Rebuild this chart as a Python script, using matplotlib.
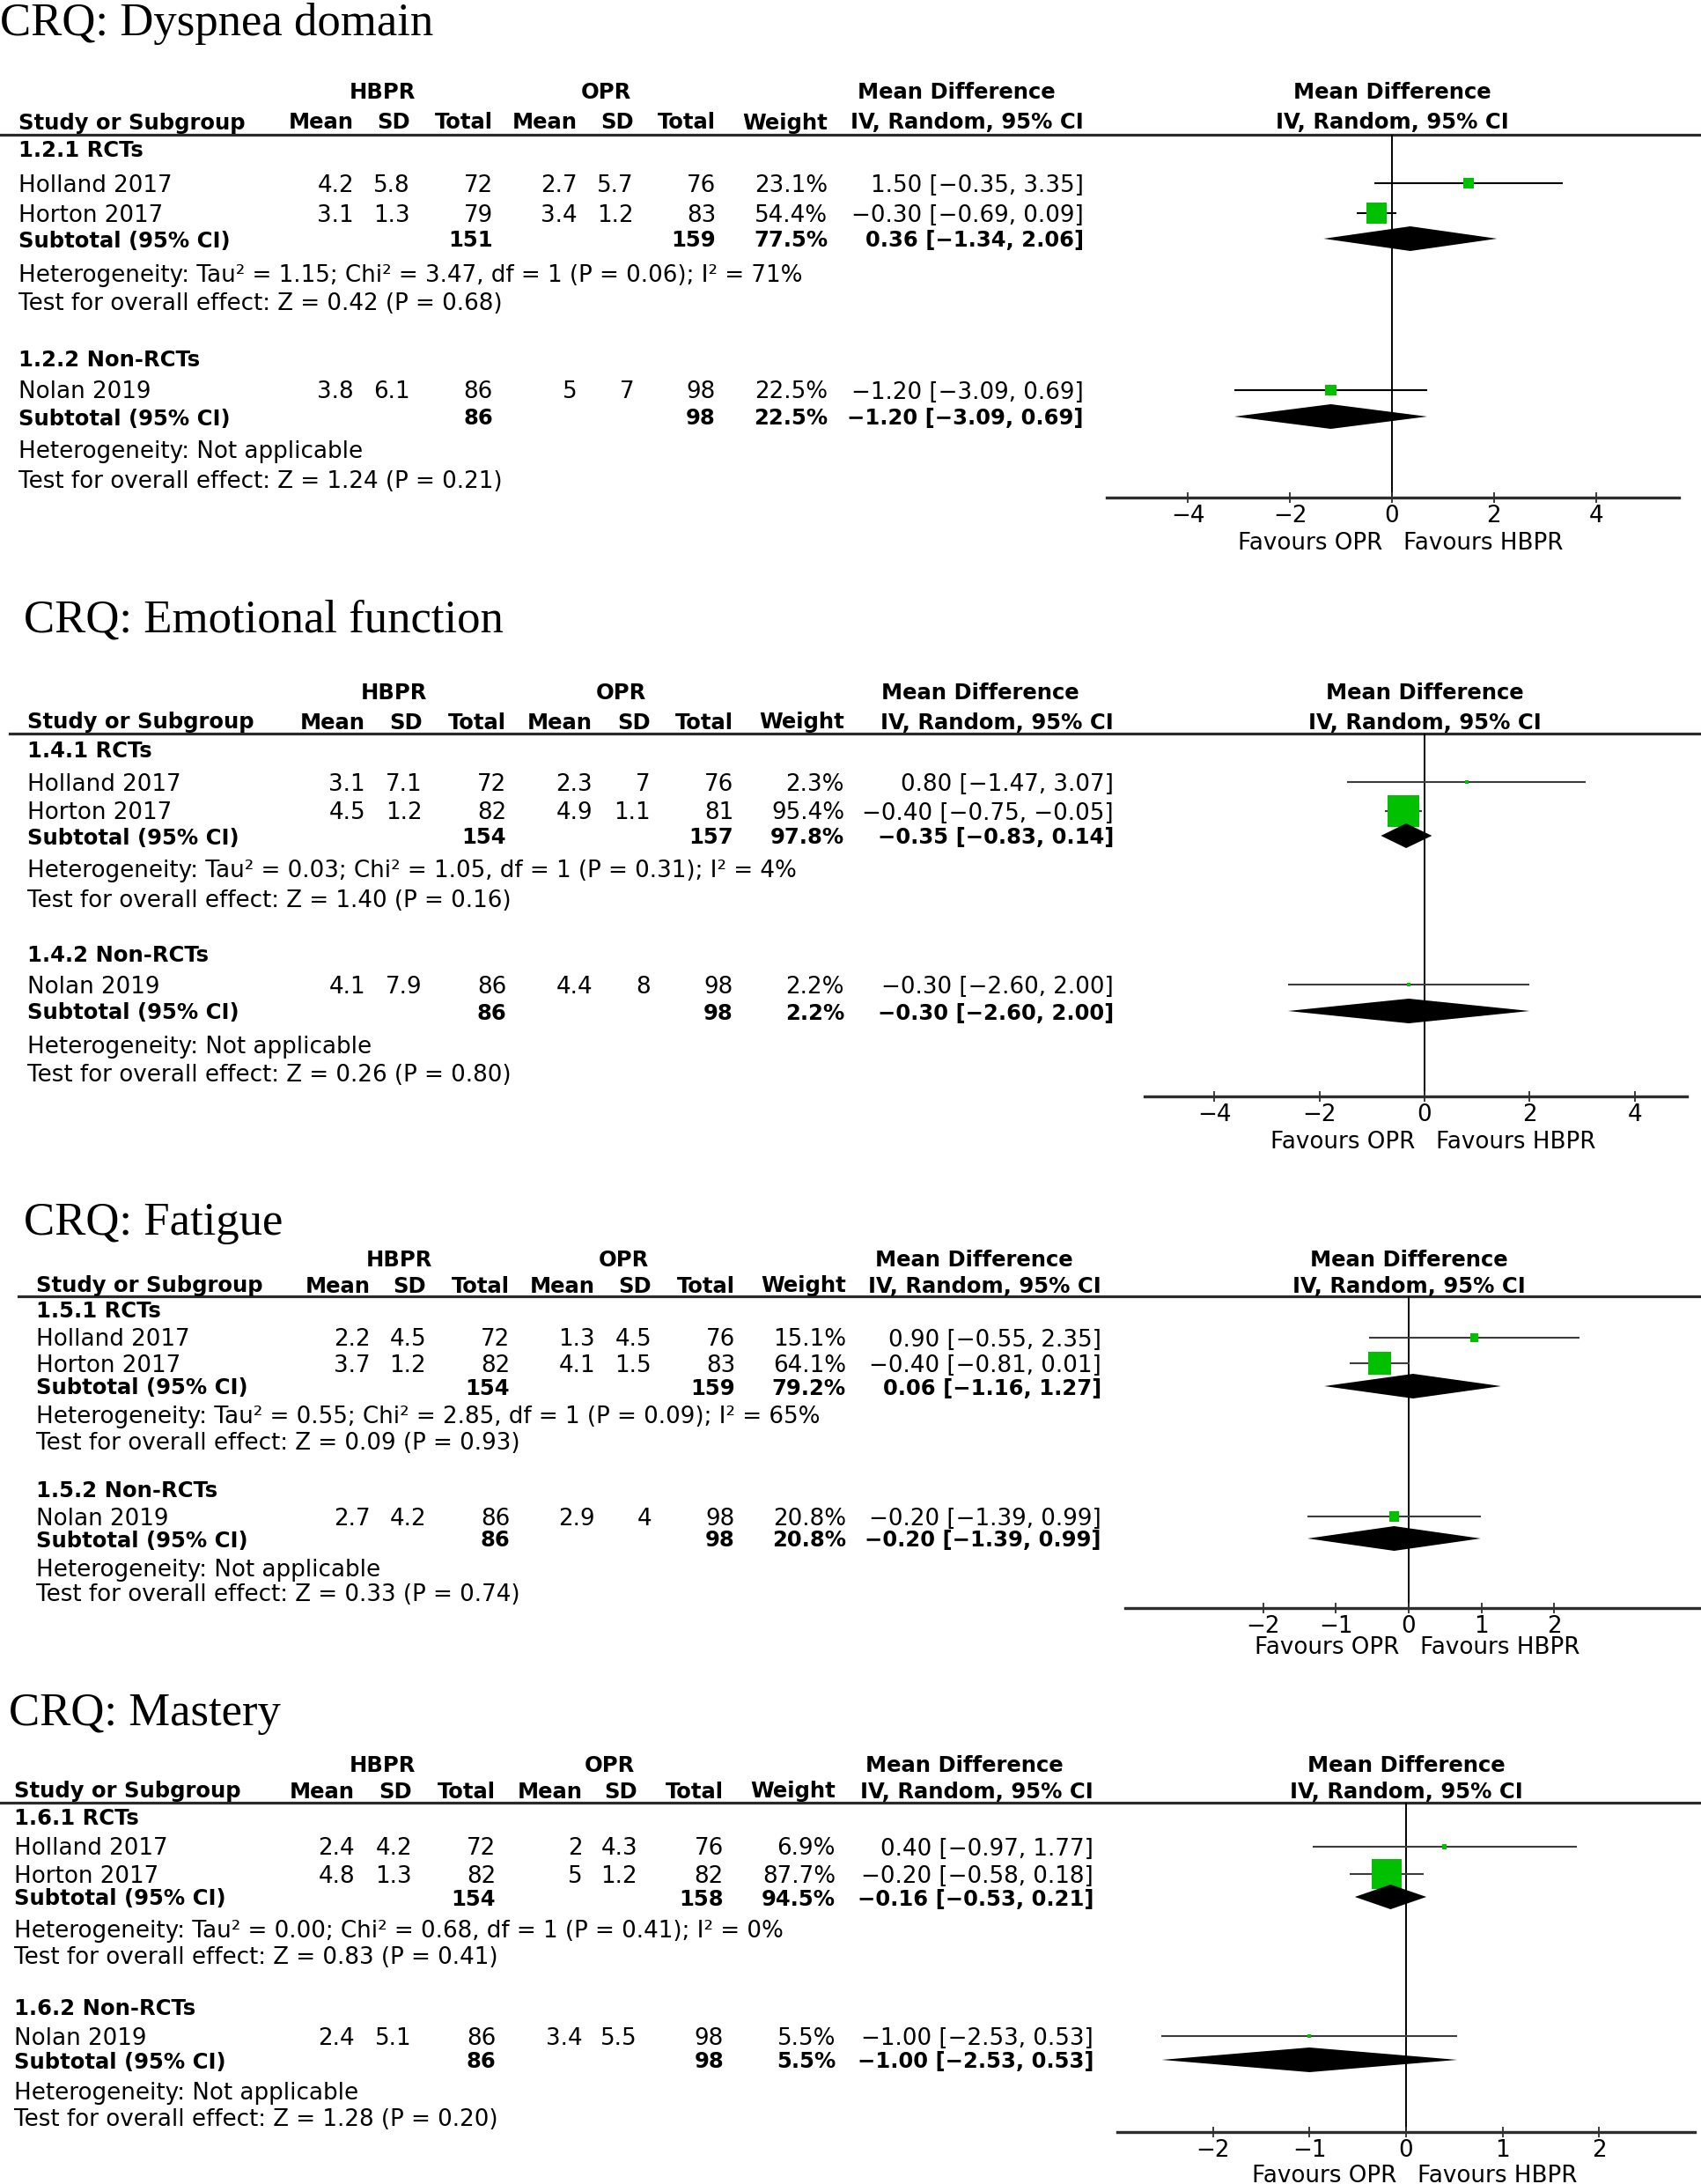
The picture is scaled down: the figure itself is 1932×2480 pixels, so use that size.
import matplotlib
matplotlib.use('Agg')
import matplotlib.pyplot as plt

plt.rcParams['font.family'] = 'DejaVu Sans'

# ---- data ----
outcomes = ["Dyspnea domain", "Emotional function", "Fatigue", "Mastery"]
subgroups = [["1.2.1 RCTs", "1.2.2 Non-RCTs"], ["1.4.1 RCTs", "1.4.2 Non-RCTs"],
             ["1.5.1 RCTs", "1.5.2 Non-RCTs"], ["1.6.1 RCTs", "1.6.2 Non-RCTs"]]
studies = ["Holland 2017", "Horton 2017", "Nolan 2019"]

hbpr_mean = [[4.2, 3.1, 3.8], [3.1, 4.5, 4.1], [2.2, 3.7, 2.7], [2.4, 4.8, 2.4]]
hbpr_sd = [[5.8, 1.3, 6.1], [7.1, 1.2, 7.9], [4.5, 1.2, 4.2], [4.2, 1.3, 5.1]]
hbpr_n = [[72, 79, 86], [72, 82, 86], [72, 82, 86], [72, 82, 86]]
opr_mean = [[2.7, 3.4, 5], [2.3, 4.9, 4.4], [1.3, 4.1, 2.9], [2, 5, 3.4]]
opr_sd = [[5.7, 1.2, 7], [7, 1.1, 8], [4.5, 1.5, 4], [4.3, 1.2, 5.5]]
opr_n = [[76, 83, 98], [76, 81, 98], [76, 83, 98], [76, 82, 98]]
weight = [[23.1, 54.4, 22.5], [2.3, 95.4, 2.2], [15.1, 64.1, 20.8], [6.9, 87.7, 5.5]]
md = [[1.50, -0.30, -1.20], [0.80, -0.40, -0.30], [0.90, -0.40, -0.20], [0.40, -0.20, -1.00]]
md_lo = [[-0.35, -0.69, -3.09], [-1.47, -0.75, -2.60], [-0.55, -0.81, -1.39], [-0.97, -0.58, -2.53]]
md_hi = [[3.35, 0.09, 0.69], [3.07, -0.05, 2.00], [2.35, 0.01, 0.99], [1.77, 0.18, 0.53]]

sub_hbpr_n = [[151, 86], [154, 86], [154, 86], [154, 86]]
sub_opr_n = [[159, 98], [157, 98], [159, 98], [158, 98]]
sub_weight = [[77.5, 22.5], [97.8, 2.2], [79.2, 20.8], [94.5, 5.5]]
sub_md = [[0.36, -1.20], [-0.35, -0.30], [0.06, -0.20], [-0.16, -1.00]]
sub_lo = [[-1.34, -3.09], [-0.83, -2.60], [-1.16, -1.39], [-0.53, -2.53]]
sub_hi = [[2.06, 0.69], [0.14, 2.00], [1.27, 0.99], [0.21, 0.53]]

heterogeneity = ["Tau\u00b2 = 1.15; Chi\u00b2 = 3.47, df = 1 (P = 0.06); I\u00b2 = 71%",
                 "Tau\u00b2 = 0.03; Chi\u00b2 = 1.05, df = 1 (P = 0.31); I\u00b2 = 4%",
                 "Tau\u00b2 = 0.55; Chi\u00b2 = 2.85, df = 1 (P = 0.09); I\u00b2 = 65%",
                 "Tau\u00b2 = 0.00; Chi\u00b2 = 0.68, df = 1 (P = 0.41); I\u00b2 = 0%"]
overall_z = [["Z = 0.42 (P = 0.68)", "Z = 1.24 (P = 0.21)"],
             ["Z = 1.40 (P = 0.16)", "Z = 0.26 (P = 0.80)"],
             ["Z = 0.09 (P = 0.93)", "Z = 0.33 (P = 0.74)"],
             ["Z = 0.83 (P = 0.41)", "Z = 1.28 (P = 0.20)"]]
axis_ticks = [[-4, -2, 0, 2, 4], [-4, -2, 0, 2, 4], [-2, -1, 0, 1, 2], [-2, -1, 0, 1, 2]]

# ---- page layout (pixels on the 1932x2480 page) ----
layout = [
    dict(title_x=0, title_y=40, h1=103, h2=137, line=153,
         rows=[169, 208, 242, 271, 310, 343, 406, 443, 473, 511, 545],
         axis=565, fav=614, ax_x=(1257, 1907), zero=1581, unit=57.9, study_x=21,
         cols=[402, 466, 560, 656, 720, 813, 940, 1231], grp=[434, 688, 1086], lc='black'),
    dict(title_x=27, title_y=718, h1=785, h2=818, line=833,
         rows=[851, 888, 921, 949, 987, 1020, 1082, 1118, 1148, 1186, 1219],
         axis=1245, fav=1295, ax_x=(1300, 1916), zero=1618, unit=59.7, study_x=31,
         cols=[415, 480, 575, 673, 739, 833, 959, 1265], grp=[447, 705, 1113], lc='#3c3c3c'),
    dict(title_x=27, title_y=1402, h1=1429, h2=1458, line=1472,
         rows=[1487, 1519, 1548, 1574, 1607, 1636, 1690, 1722, 1747, 1780, 1809],
         axis=1826, fav=1869, ax_x=(1278, 1930), zero=1600, unit=82.6, study_x=41,
         cols=[421, 484, 579, 676, 740, 835, 961, 1251], grp=[453, 708, 1106], lc='#3c3c3c'),
    dict(title_x=10, title_y=1959, h1=2002, h2=2032, line=2047,
         rows=[2063, 2097, 2128, 2154, 2190, 2220, 2278, 2312, 2339, 2374, 2405],
         axis=2421, fav=2468, ax_x=(1269, 1925), zero=1597, unit=109.7, study_x=16,
         cols=[403, 468, 563, 662, 724, 822, 949, 1242], grp=[434, 692, 1095], lc='#3c3c3c'),
]

W, H, DPI = 1932, 2480, 100
FS, FSB = 18.8, 17.5
GREEN = '#00c000'

fig = plt.figure(figsize=(W / DPI, H / DPI), dpi=DPI)
bg = fig.add_axes([0, 0, 1, 1])
bg.set_xlim(0, W)
bg.set_ylim(H, 0)
bg.axis('off')


def txt(x, y, s, ha='left', bold=False):
    bg.text(x, y + 9.5, s, ha=ha, va='baseline', fontsize=FSB if bold else FS,
            fontweight='bold' if bold else 'normal', color='black')


def num(v):
    return f"{v:g}"


def ci_text(m, lo, hi):
    return f"{m:.2f} [{lo:.2f}, {hi:.2f}]".replace('-', '\u2212')


for p, L in enumerate(layout):
    bg.text(L['title_x'], L['title_y'], f"CRQ: {outcomes[p]}", fontsize=38,
            family='Liberation Serif', va='baseline')

    # column headers
    for x, s in zip(L['grp'], ["HBPR", "OPR", "Mean Difference"]):
        txt(x, L['h1'], s, ha='center', bold=True)
    txt(L['zero'], L['h1'], "Mean Difference", ha='center', bold=True)
    txt(L['study_x'], L['h2'], "Study or Subgroup", bold=True)
    heads = ["Mean", "SD", "Total", "Mean", "SD", "Total", "Weight", "IV, Random, 95% CI"]
    for x, s in zip(L['cols'], heads):
        txt(x, L['h2'], s, ha='right', bold=True)
    txt(L['zero'], L['h2'], "IV, Random, 95% CI", ha='center', bold=True)
    bg.plot([L['study_x'] - 20, W], [L['line'], L['line']], color='#2a2a2a', lw=2.3)

    # forest axes
    x0, x1 = L['ax_x']
    ax = fig.add_axes([x0 / W, 1 - L['axis'] / H, (x1 - x0) / W, (L['axis'] - L['line']) / H])
    ax.set_facecolor('none')
    ax.set_xlim((x0 - L['zero']) / L['unit'], (x1 - L['zero']) / L['unit'])
    ax.set_ylim(L['axis'], L['line'])
    for side in ['top', 'left', 'right']:
        ax.spines[side].set_visible(False)
    ax.spines['bottom'].set_linewidth(2.4)
    ax.spines['bottom'].set_color('#2e2e2e')
    ax.set_yticks([])
    ax.set_xticks(axis_ticks[p])
    ax.tick_params(axis='x', direction='inout', length=9, width=1.3, color='#2e2e2e',
                   labelsize=FS, pad=1)
    ax.axvline(0, color='black', lw=1.4, zorder=1)

    rows = L['rows']
    study_rows = [rows[1], rows[2], rows[7]]
    sub_rows = [rows[3], rows[8]]

    for g in range(2):
        txt(L['study_x'], rows[0 if g == 0 else 6], subgroups[p][g], bold=True)
        txt(L['study_x'], rows[4 if g == 0 else 9],
            "Heterogeneity: " + (heterogeneity[p] if g == 0 else "Not applicable"))
        txt(L['study_x'], rows[5 if g == 0 else 10], "Test for overall effect: " + overall_z[p][g])

    for i, y in enumerate(study_rows):
        txt(L['study_x'], y, studies[i])
        vals = [num(hbpr_mean[p][i]), num(hbpr_sd[p][i]), str(hbpr_n[p][i]),
                num(opr_mean[p][i]), num(opr_sd[p][i]), str(opr_n[p][i]),
                f"{weight[p][i]:.1f}%", ci_text(md[p][i], md_lo[p][i], md_hi[p][i])]
        for x, s in zip(L['cols'], vals):
            txt(x, y, s, ha='right')
        ax.hlines(y, md_lo[p][i], md_hi[p][i], color=L['lc'], lw=1.5, zorder=2)
        side_px = max(4.0, 1.18 * weight[p][i] ** 0.75)
        ax.scatter([md[p][i]], [y], marker='s', s=(side_px * 72 / DPI) ** 2,
                   color=GREEN, edgecolors='none', zorder=3)

    for g, y in enumerate(sub_rows):
        txt(L['study_x'], y, "Subtotal (95% CI)", bold=True)
        txt(L['cols'][2], y, str(sub_hbpr_n[p][g]), ha='right', bold=True)
        txt(L['cols'][5], y, str(sub_opr_n[p][g]), ha='right', bold=True)
        txt(L['cols'][6], y, f"{sub_weight[p][g]:.1f}%", ha='right', bold=True)
        txt(L['cols'][7], y, ci_text(sub_md[p][g], sub_lo[p][g], sub_hi[p][g]), ha='right', bold=True)
        ax.fill([sub_lo[p][g], sub_md[p][g], sub_hi[p][g], sub_md[p][g]],
                [y, y - 14, y, y + 14], color='black', lw=0, zorder=4)

    txt(L['zero'] - 11, L['fav'], "Favours OPR", ha='right')
    txt(L['zero'] + 13, L['fav'], "Favours HBPR")

fig.savefig('out.png', dpi=DPI)
